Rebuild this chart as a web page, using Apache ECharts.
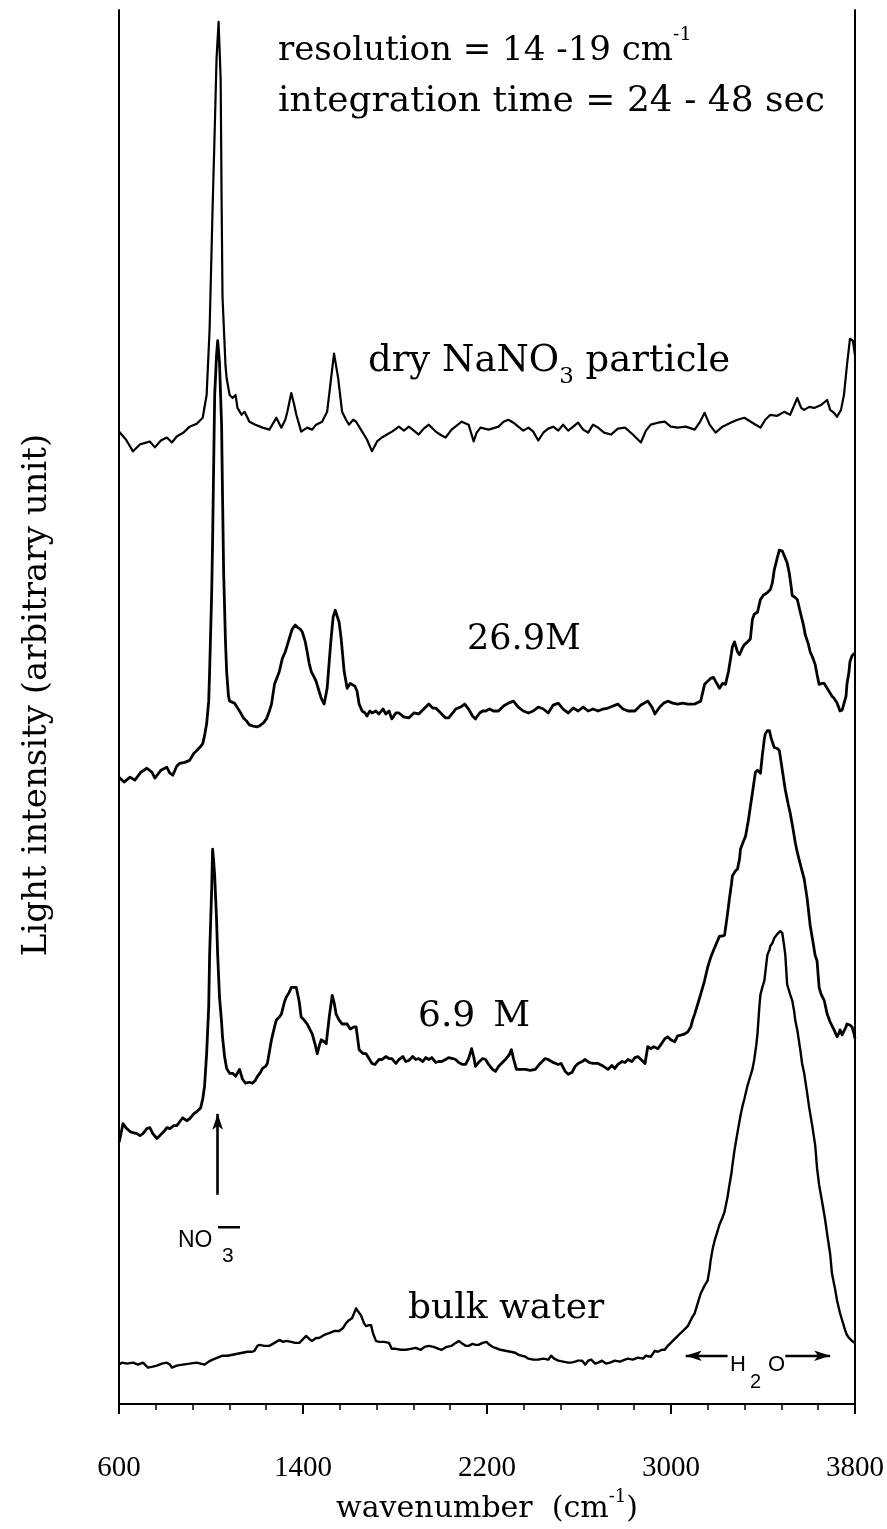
<!DOCTYPE html>
<html>
<head>
<meta charset="utf-8">
<script src="https://cdn.jsdelivr.net/npm/echarts@6/dist/echarts.min.js"></script>
<style>
  html, body { margin: 0; padding: 0; background: #fff; }
  #chart { width: 887px; height: 1529px; }
</style>
</head>
<body>
<div id="chart"></div>
<script>
// Raman spectra: wavenumber (cm-1) vs. light intensity (arbitrary unit), traces stacked with offsets.

const xTicks = [600, 1400, 2200, 3000, 3800];

// dry NaNO3 particle
const dryParticle = [
  [600,98.5],[630,97.7],[661,96.5],[691,97.2],[734,97.5],[756,96.9],[782,97.6],[808,97.9],[830,97.4],[851,98.0],
  [881,98.4],[907,99.0],[938,99.3],[964,99.9],[981,102.2],[994,108.9],[1007,121.2],[1016,128.9],[1024,136.2],[1033,140.0],
  [1042,134.2],[1046,122.2],[1050,112.2],[1063,105.2],[1068,103.9],[1081,102.2],[1094,101.9],[1107,102.2],[1115,100.9],[1133,100.2],
  [1146,100.5],[1167,99.5],[1193,99.2],[1224,98.9],[1254,98.7],[1284,99.9],[1306,98.9],[1323,99.7],[1332,100.5],[1349,102.4],
  [1362,101.2],[1371,100.2],[1392,98.5],[1418,98.9],[1440,98.7],[1457,99.2],[1483,99.5],[1505,100.5],[1522,103.9],[1535,106.4],
  [1553,103.9],[1570,100.5],[1587,99.7],[1600,99.2],[1618,99.7],[1631,99.5],[1657,98.5],[1678,97.7],[1700,96.5],[1722,97.5],
  [1743,97.9],[1765,98.2],[1787,98.5],[1817,99.0],[1839,98.6],[1860,99.0],[1882,98.6],[1903,98.2],[1925,98.8],[1947,99.2],
  [1977,98.5],[2003,98.1],[2020,97.9],[2046,98.7],[2068,99.1],[2090,99.5],[2120,99.2],[2133,98.2],[2142,97.5],[2155,98.4],
  [2172,98.9],[2207,98.7],[2250,99.0],[2272,99.5],[2293,99.7],[2315,99.4],[2336,99.0],[2358,98.6],[2380,98.9],[2401,98.5],
  [2423,97.6],[2445,98.4],[2466,98.8],[2488,99.0],[2510,98.6],[2531,99.2],[2553,98.6],[2575,99.0],[2596,99.4],[2618,98.7],
  [2640,98.4],[2661,99.2],[2683,98.9],[2709,98.4],[2739,98.2],[2769,98.8],[2800,98.9],[2834,98.2],[2869,97.4],[2891,98.6],
  [2912,99.2],[2943,99.4],[2973,99.5],[2999,99.0],[3029,98.9],[3064,99.0],[3103,98.7],[3124,99.4],[3146,100.4],[3168,99.2],
  [3194,98.4],[3224,99.0],[3259,99.4],[3289,99.7],[3319,99.9],[3354,99.4],[3389,98.9],[3410,99.7],[3432,100.2],[3462,100.1],
  [3492,100.5],[3518,100.2],[3549,101.9],[3566,100.9],[3579,100.7],[3601,101.0],[3622,100.9],[3653,101.2],[3679,101.7],[3692,100.7],
  [3709,100.4],[3722,100.0],[3739,100.7],[3752,102.2],[3765,105.2],[3778,107.9],[3791,107.7],[3800,106.2]
];

// 26.9 M solution droplet
const conc269 = [
  [600,63.5],[622,63.0],[648,63.5],[669,63.2],[695,64.0],[721,64.4],[743,64.0],[756,63.4],[782,64.2],[808,64.5],
  [821,63.9],[834,63.7],[851,64.6],[864,64.9],[886,65.0],[907,65.2],[925,65.9],[938,66.2],[951,66.5],[964,66.9],
  [972,67.7],[981,68.9],[990,71.2],[994,74.2],[1003,82.2],[1007,87.5],[1011,94.2],[1016,102.2],[1024,106.2],[1029,107.7],
  [1037,105.5],[1046,99.2],[1050,92.2],[1055,84.2],[1063,77.2],[1068,74.2],[1076,71.7],[1081,71.2],[1089,71.4],[1102,71.0],
  [1124,70.2],[1141,69.5],[1154,69.2],[1167,68.8],[1180,68.7],[1198,68.6],[1211,68.7],[1228,69.0],[1241,69.4],[1254,70.2],
  [1263,70.9],[1276,72.9],[1289,73.7],[1297,74.2],[1310,75.5],[1323,76.2],[1332,76.9],[1345,77.9],[1353,78.5],[1366,78.9],
  [1375,78.7],[1388,78.5],[1397,78.2],[1410,77.2],[1418,76.2],[1427,75.0],[1436,74.2],[1449,73.6],[1457,73.2],[1470,72.2],
  [1479,71.5],[1492,70.9],[1505,72.5],[1514,75.2],[1522,77.5],[1531,79.7],[1540,80.4],[1548,80.2],[1557,79.2],[1566,77.5],
  [1579,74.2],[1592,72.5],[1605,73.0],[1613,73.0],[1626,72.7],[1635,72.2],[1644,70.9],[1657,70.2],[1670,70.0],[1678,69.7],
  [1691,70.2],[1700,70.0],[1717,70.2],[1730,69.9],[1748,70.4],[1760,69.9],[1774,70.2],[1786,69.4],[1804,70.0],[1817,70.0],
  [1838,69.6],[1860,69.5],[1882,70.0],[1903,69.9],[1925,70.4],[1947,70.9],[1964,70.5],[1977,70.5],[1990,70.2],[2003,69.9],
  [2020,69.5],[2033,69.5],[2051,70.0],[2064,70.4],[2085,70.6],[2103,70.9],[2120,70.4],[2137,69.7],[2150,69.4],[2168,70.0],
  [2181,70.2],[2194,70.2],[2211,70.4],[2228,70.2],[2250,70.2],[2272,70.7],[2293,71.0],[2315,71.2],[2336,70.6],[2358,70.2],
  [2380,70.0],[2401,70.2],[2423,70.6],[2445,70.4],[2466,70.0],[2488,70.8],[2510,71.0],[2531,70.4],[2553,70.0],[2575,70.5],
  [2596,70.2],[2618,70.6],[2640,70.2],[2661,70.4],[2683,70.2],[2704,70.4],[2726,70.5],[2748,70.7],[2769,70.9],[2791,70.4],
  [2813,70.2],[2843,70.2],[2869,70.8],[2899,71.2],[2917,70.6],[2930,69.9],[2951,70.6],[2969,71.0],[2986,71.2],[3008,71.0],
  [3029,70.9],[3051,71.0],[3073,70.9],[3103,70.9],[3129,71.2],[3146,72.9],[3159,73.2],[3172,73.5],[3185,73.6],[3194,73.2],
  [3211,72.5],[3224,73.0],[3237,72.9],[3250,74.2],[3259,75.5],[3267,76.7],[3276,77.2],[3289,76.2],[3298,75.9],[3311,76.6],
  [3319,76.9],[3332,77.2],[3345,77.5],[3354,79.5],[3362,80.0],[3376,80.2],[3389,81.5],[3401,81.9],[3419,82.2],[3432,82.5],
  [3441,83.2],[3449,84.5],[3462,85.7],[3471,86.5],[3484,86.4],[3492,86.2],[3505,85.2],[3514,84.2],[3523,82.7],[3527,81.9],
  [3540,81.7],[3549,81.5],[3562,80.2],[3575,79.0],[3584,77.9],[3597,77.0],[3605,76.2],[3618,75.5],[3627,74.9],[3635,73.9],
  [3644,72.9],[3657,73.0],[3666,73.0],[3679,72.5],[3687,72.2],[3700,71.7],[3709,71.5],[3722,71.0],[3735,70.2],[3744,70.3],
  [3752,70.5],[3761,71.7],[3765,72.9],[3774,74.2],[3778,75.2],[3787,75.8],[3796,76.0],[3800,76.0]
];

// 6.9 M solution droplet
const conc69 = [
  [600,26.5],[609,27.4],[617,28.4],[630,28.0],[648,27.6],[661,27.5],[678,27.4],[691,27.2],[704,27.4],[721,27.9],
  [734,28.0],[747,27.4],[765,26.9],[778,27.2],[795,27.6],[808,28.0],[821,27.9],[838,28.2],[851,28.2],[864,28.6],
  [877,29.0],[894,28.7],[907,28.9],[925,29.4],[942,29.7],[955,30.0],[964,30.9],[972,32.2],[981,35.5],[990,40.2],
  [994,45.5],[1003,52.2],[1007,56.2],[1011,55.2],[1016,53.5],[1024,49.2],[1029,45.5],[1037,41.2],[1046,38.7],[1050,37.2],
  [1059,35.2],[1068,34.0],[1081,33.5],[1094,33.5],[1107,33.2],[1124,33.9],[1137,32.9],[1150,32.5],[1167,32.6],[1180,32.5],
  [1193,32.8],[1202,33.2],[1215,33.6],[1224,34.0],[1237,34.2],[1245,34.5],[1254,35.7],[1263,36.9],[1276,38.2],[1284,38.9],
  [1297,39.2],[1306,39.5],[1319,40.7],[1327,41.2],[1340,41.7],[1349,42.2],[1362,42.2],[1371,42.2],[1384,40.7],[1392,39.2],
  [1405,38.9],[1418,38.5],[1431,37.9],[1440,37.5],[1453,36.4],[1462,35.5],[1470,36.2],[1479,36.9],[1492,36.7],[1501,36.5],
  [1514,39.2],[1527,41.4],[1535,40.7],[1544,39.5],[1557,38.9],[1570,38.5],[1583,38.5],[1592,38.5],[1605,38.0],[1613,38.0],
  [1622,38.2],[1631,38.2],[1644,35.9],[1661,35.5],[1674,35.5],[1687,35.0],[1700,34.5],[1713,34.4],[1730,34.9],[1743,34.9],
  [1760,35.2],[1774,35.0],[1786,35.0],[1804,34.5],[1817,34.9],[1834,35.2],[1847,34.7],[1860,34.8],[1877,35.2],[1890,34.9],
  [1903,35.0],[1921,34.7],[1934,35.1],[1947,34.9],[1960,35.1],[1977,34.6],[1990,34.7],[2003,34.7],[2020,34.9],[2033,35.1],
  [2051,35.0],[2064,34.9],[2077,34.6],[2094,34.4],[2107,34.4],[2120,35.0],[2133,36.0],[2142,35.2],[2150,34.2],[2163,34.6],
  [2181,35.0],[2194,34.9],[2207,34.4],[2224,33.9],[2237,33.7],[2250,34.2],[2267,34.6],[2280,34.9],[2297,35.4],[2306,35.9],
  [2315,35.0],[2328,33.9],[2345,33.9],[2367,33.9],[2388,33.8],[2410,33.9],[2431,34.5],[2453,35.0],[2466,34.9],[2488,34.6],
  [2510,34.4],[2522,34.5],[2540,33.7],[2553,33.4],[2570,33.6],[2583,34.2],[2596,34.5],[2614,34.7],[2627,34.9],[2644,34.6],
  [2661,34.5],[2683,34.5],[2700,34.3],[2713,34.1],[2726,33.9],[2743,34.3],[2756,34.0],[2769,34.4],[2787,34.7],[2800,34.6],
  [2813,34.9],[2830,34.7],[2843,35.1],[2856,35.2],[2874,34.8],[2887,34.5],[2899,36.2],[2912,36.0],[2925,36.2],[2943,36.0],
  [2956,36.4],[2973,37.0],[2986,37.2],[2999,36.9],[3016,36.7],[3029,37.3],[3047,37.4],[3060,37.5],[3073,37.7],[3086,38.2],
  [3094,38.9],[3103,39.5],[3116,40.5],[3129,41.5],[3146,42.9],[3159,44.2],[3172,45.2],[3189,46.2],[3202,46.9],[3211,47.4],
  [3224,47.4],[3233,47.5],[3246,49.7],[3254,51.2],[3263,52.7],[3267,53.5],[3280,54.0],[3289,54.2],[3298,55.2],[3302,56.2],
  [3315,57.0],[3324,57.5],[3337,59.2],[3345,60.5],[3354,61.9],[3362,63.2],[3367,64.0],[3376,64.2],[3389,63.9],[3397,65.7],
  [3406,67.4],[3410,67.9],[3419,68.2],[3428,68.2],[3436,67.4],[3449,66.5],[3462,66.4],[3471,66.2],[3479,65.0],[3484,64.2],
  [3497,62.2],[3510,60.7],[3518,59.9],[3531,58.2],[3540,56.9],[3549,55.9],[3562,54.7],[3579,53.2],[3592,51.2],[3605,48.5],
  [3618,46.7],[3627,45.4],[3635,44.9],[3644,42.2],[3653,41.5],[3666,40.9],[3679,39.5],[3692,38.7],[3709,37.9],[3722,37.2],
  [3731,37.6],[3735,37.9],[3744,37.4],[3752,37.5],[3761,38.2],[3765,38.5],[3778,38.4],[3787,38.2],[3796,37.5],[3800,37.0]
];

// bulk water
const bulkWater = [
  [600,4.0],[613,4.2],[635,4.1],[661,4.2],[682,4.0],[704,4.2],[726,3.7],[747,3.8],[765,3.9],[786,4.1],
  [808,4.2],[821,4.0],[830,3.7],[851,3.9],[877,4.0],[907,4.1],[938,4.2],[955,4.1],[972,4.0],[990,4.3],
  [1007,4.5],[1029,4.7],[1050,4.9],[1072,4.9],[1094,5.0],[1115,5.1],[1137,5.2],[1159,5.3],[1180,5.3],[1189,5.4],
  [1202,5.9],[1211,6.0],[1232,5.9],[1254,5.9],[1276,6.2],[1297,6.5],[1314,6.3],[1327,6.4],[1349,6.3],[1366,6.2],
  [1384,6.2],[1401,6.6],[1414,6.9],[1427,6.6],[1440,6.4],[1457,6.7],[1470,6.7],[1492,7.0],[1514,7.2],[1535,7.4],
  [1557,7.4],[1574,7.7],[1587,8.2],[1600,8.5],[1613,8.7],[1622,9.2],[1631,9.7],[1639,9.4],[1652,9.0],[1665,8.2],
  [1674,7.9],[1687,8.0],[1696,8.0],[1704,7.2],[1717,6.4],[1730,6.3],[1752,6.3],[1774,6.2],[1786,5.6],[1804,5.6],
  [1825,5.5],[1847,5.5],[1869,5.6],[1890,5.7],[1912,5.5],[1929,5.8],[1947,5.9],[1968,5.8],[1990,5.6],[2003,5.5],
  [2025,5.8],[2046,5.9],[2064,6.2],[2077,6.4],[2094,6.1],[2107,5.9],[2120,5.9],[2137,6.1],[2150,6.0],[2163,6.0],
  [2181,6.2],[2198,6.3],[2211,6.0],[2224,5.8],[2237,5.7],[2258,5.5],[2280,5.4],[2302,5.3],[2323,5.2],[2336,5.0],
  [2350,4.9],[2367,4.8],[2380,4.6],[2401,4.5],[2423,4.5],[2445,4.6],[2466,4.5],[2479,4.9],[2492,4.6],[2510,4.4],
  [2531,4.3],[2553,4.2],[2566,4.2],[2583,4.3],[2596,4.4],[2614,4.4],[2627,4.0],[2640,4.4],[2653,4.5],[2670,4.1],
  [2683,4.2],[2700,4.4],[2717,4.1],[2735,4.2],[2756,4.4],[2778,4.3],[2800,4.5],[2813,4.6],[2834,4.5],[2856,4.7],
  [2878,4.6],[2891,4.9],[2899,5.0],[2912,4.8],[2930,5.4],[2943,5.3],[2960,5.5],[2973,5.5],[2986,5.9],[2999,6.2],
  [3021,6.7],[3042,7.2],[3060,7.6],[3073,7.9],[3090,8.7],[3103,9.2],[3116,10.2],[3129,11.2],[3146,12.0],[3159,12.5],
  [3168,13.7],[3172,14.5],[3181,15.7],[3189,16.5],[3202,17.5],[3211,18.2],[3224,18.9],[3233,19.5],[3246,21.0],[3254,22.2],
  [3263,23.4],[3267,24.2],[3276,25.7],[3289,27.5],[3302,29.2],[3311,30.2],[3319,30.9],[3332,32.2],[3341,32.9],[3354,33.9],
  [3362,34.9],[3371,36.4],[3376,37.5],[3384,40.2],[3389,41.5],[3397,42.2],[3406,42.9],[3410,43.7],[3419,45.5],[3428,46.0],
  [3432,46.4],[3441,46.7],[3449,47.2],[3462,47.6],[3475,47.9],[3484,47.7],[3492,46.4],[3497,45.5],[3505,42.5],[3518,41.5],
  [3527,40.9],[3536,39.7],[3540,38.9],[3549,37.9],[3562,35.9],[3570,34.5],[3579,33.5],[3592,31.5],[3601,30.0],[3614,28.2],
  [3627,26.2],[3635,23.9],[3644,22.2],[3657,20.5],[3670,18.7],[3679,17.2],[3692,15.2],[3700,13.2],[3713,11.7],[3722,10.5],
  [3735,9.2],[3748,8.2],[3757,7.5],[3765,7.0],[3774,6.7],[3787,6.4],[3800,6.2]
];

// band markers: nitrate stretch (vertical arrow) and the O-H stretch region (double arrow)
const nitrateArrow = [[1029, 21.2], [1029, 29.4]];
const waterBandLeft = [[3246, 4.9], [3064, 4.9]];
const waterBandRight = [[3497, 4.9], [3692, 4.9]];

const SERIF = '"DejaVu Serif", "Liberation Serif", serif';
const TICKFONT = '"Liberation Serif", "DejaVu Serif", serif';
const SANS = '"Liberation Sans", "DejaVu Sans", sans-serif';

const chart = echarts.init(document.getElementById('chart'), null, { renderer: 'canvas' });

function spectrum(name, data, width) {
  return {
    name: name,
    type: 'line',
    data: data,
    showSymbol: false,
    symbol: 'none',
    smooth: false,
    silent: true,
    lineStyle: { color: '#000', width: width, join: 'round' },
    emphasis: { disabled: true },
    z: 3
  };
}

const bulkSeries = spectrum('bulk water', bulkWater, 2.4);
bulkSeries.markLine = {
  silent: true,
  symbol: ['none', 'arrow'],
  label: { show: false },
  emphasis: { disabled: true },
  animation: false,
  data: [
    [{ coord: nitrateArrow[0], symbolSize: [13, 22], lineStyle: { color: '#000', width: 2.6, type: 'solid' } },
     { coord: nitrateArrow[1] }],
    [{ coord: waterBandLeft[0], symbolSize: [15, 30], lineStyle: { color: '#000', width: 2.4, type: 'solid' } },
     { coord: waterBandLeft[1] }],
    [{ coord: waterBandRight[0], symbolSize: [15, 30], lineStyle: { color: '#000', width: 2.4, type: 'solid' } },
     { coord: waterBandRight[1] }]
  ]
};

// annotation text, left-aligned and vertically centred on a pixel anchor
function note(x, y, text, size, extra) {
  return {
    type: 'text', x: x, y: y, silent: true,
    style: Object.assign({
      text: text, font: size + 'px ' + SERIF, fill: '#000',
      align: 'left', verticalAlign: 'middle'
    }, extra || {})
  };
}

const option = {
  backgroundColor: '#fff',
  animation: false,
  grid: { left: 119, right: 29, top: 10, bottom: 107, containLabel: false },
  xAxis: {
    type: 'value',
    min: xTicks[0],
    max: xTicks[xTicks.length - 1],
    interval: xTicks[1] - xTicks[0],
    name: '{a|wavenumber  (cm}{sup|-1}{a|)}',
    nameLocation: 'middle',
    nameGap: 76,
    nameTextStyle: {
      rich: {
        a: { fontFamily: SERIF, fontSize: 30, color: '#000', lineHeight: 36, verticalAlign: 'bottom' },
        sup: { fontFamily: SERIF, fontSize: 18, color: '#000', lineHeight: 36, verticalAlign: 'top' }
      }
    },
    axisLine: { show: true, onZero: false, lineStyle: { color: '#000', width: 2 } },
    axisTick: { show: true, inside: false, length: 10, lineStyle: { color: '#000', width: 2 } },
    minorTick: { show: true, splitNumber: 5, length: 6, lineStyle: { color: '#000', width: 1.5 } },
    splitLine: { show: false },
    minorSplitLine: { show: false },
    axisLabel: {
      show: true, margin: 50, fontFamily: TICKFONT, fontSize: 29, color: '#000',
      formatter: function (v) { return String(v); }
    }
  },
  yAxis: [
    {
      type: 'value',
      min: 0,
      max: 141.2,
      position: 'left',
      axisLine: { show: true, lineStyle: { color: '#000', width: 2 } },
      axisTick: { show: false },
      axisLabel: { show: false },
      splitLine: { show: false }
    },
    {
      type: 'value',
      min: 0,
      max: 141.2,
      position: 'right',
      axisLine: { show: true, lineStyle: { color: '#000', width: 2 } },
      axisTick: { show: false },
      axisLabel: { show: false },
      splitLine: { show: false }
    }
  ],
  series: [
    spectrum('dry NaNO3 particle', dryParticle, 2.2),
    spectrum('26.9M', conc269, 2.8),
    spectrum('6.9 M', conc69, 2.8),
    bulkSeries
  ],
  graphic: [
    // y-axis title, reading bottom to top
    {
      type: 'text', x: 37, y: 695, rotation: Math.PI / 2, silent: true,
      style: {
        text: 'Light intensity (arbitrary unit)', font: '34px ' + SERIF, fill: '#000',
        align: 'center', verticalAlign: 'middle'
      }
    },
    note(278, 47, '{a|resolution = 14 -19 cm}{sup|-1}', 34, {
      font: null,
      rich: {
        a: { fontFamily: SERIF, fontSize: 34, fill: '#000', lineHeight: 42, verticalAlign: 'bottom' },
        sup: { fontFamily: SERIF, fontSize: 19, fill: '#000', lineHeight: 42, verticalAlign: 'top' }
      }
    }),
    note(278, 102, 'integration time = 24 - 48 sec', 36),
    note(368, 366, '{a|dry NaNO}{sub|3}{a| particle}', 37, {
      font: null,
      rich: {
        a: { fontFamily: SERIF, fontSize: 37, fill: '#000', lineHeight: 46, verticalAlign: 'top' },
        sub: { fontFamily: SERIF, fontSize: 23, fill: '#000', lineHeight: 46, verticalAlign: 'bottom' }
      }
    }),
    note(467, 640, '26.9M', 35),
    note(418, 1017, '6.9\u2002M', 36),
    note(408, 1309, 'bulk water', 36),
    // nitrate label: NO3 with the charge bar above the subscript
    {
      type: 'text', left: 178, top: 1229, silent: true,
      style: { text: 'NO', font: '23px ' + SANS, fill: '#000' }
    },
    {
      type: 'text', left: 222, top: 1246, silent: true,
      style: { text: '3', font: '21px ' + SANS, fill: '#000' }
    },
    {
      type: 'rect', silent: true,
      shape: { x: 218, y: 1226, width: 22, height: 2.5 },
      style: { fill: '#000' }
    },
    // water band label between the arrows
    {
      type: 'text', left: 730, top: 1354, silent: true,
      style: { text: 'H', font: '22px ' + SANS, fill: '#000' }
    },
    {
      type: 'text', left: 750, top: 1372, silent: true,
      style: { text: '2', font: '20px ' + SANS, fill: '#000' }
    },
    {
      type: 'text', left: 768, top: 1354, silent: true,
      style: { text: 'O', font: '22px ' + SANS, fill: '#000' }
    }
  ]
};

chart.setOption(option);
</script>
</body>
</html>
